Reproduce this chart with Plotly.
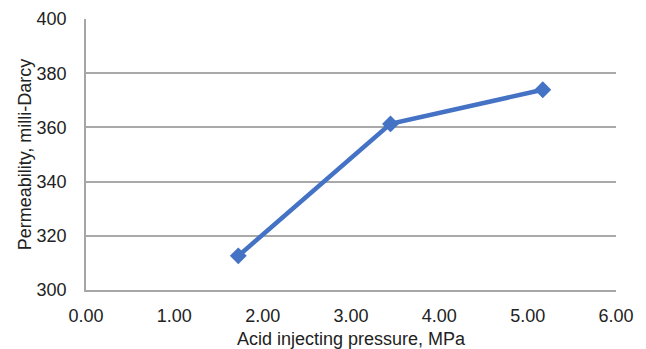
import plotly.graph_objects as go

pressure = [1.724, 3.447, 5.171]
permeability = [312.6, 361.3, 373.9]
x_ticks = [0, 1, 2, 3, 4, 5, 6]
x_tick_labels = ["0.00", "1.00", "2.00", "3.00", "4.00", "5.00", "6.00"]
y_ticks = [300, 320, 340, 360, 380, 400]

fig = go.Figure()
fig.add_trace(go.Scatter(
    x=pressure, y=permeability, mode="lines+markers",
    line=dict(color="#4472C4", width=4.5),
    marker=dict(symbol="diamond", size=13, color="#4472C4"),
    showlegend=False, cliponaxis=False,
))

txt = "#222222"
fig.update_layout(
    width=646, height=349,
    margin=dict(l=86, r=30, t=19, b=59, autoexpand=False),
    paper_bgcolor="white", plot_bgcolor="white",
    font=dict(family="Liberation Sans, Arial, sans-serif", size=18, color=txt),
    xaxis=dict(
        range=[0, 6], tickvals=x_ticks, ticktext=x_tick_labels,
        showgrid=False, zeroline=False, automargin=False,
        showline=True, linecolor="#a6a6a6", linewidth=1.5,
        ticks="", ticklabelstandoff=9,
        title=dict(text="Acid injecting pressure, MPa", font=dict(size=18, color=txt), standoff=11),
        tickfont=dict(size=18, color=txt),
    ),
    yaxis=dict(
        range=[300, 400], tickvals=y_ticks,
        showgrid=True, gridcolor="#a9a9a9", gridwidth=1.5,
        zeroline=False, automargin=False,
        showline=True, linecolor="#a6a6a6", linewidth=1.5,
        ticks="", ticklabelstandoff=14,
        title=dict(text="Permeability, milli-Darcy", font=dict(size=18, color=txt), standoff=0),
        tickfont=dict(size=18, color=txt),
    ),
)
fig.write_html("out.html")
